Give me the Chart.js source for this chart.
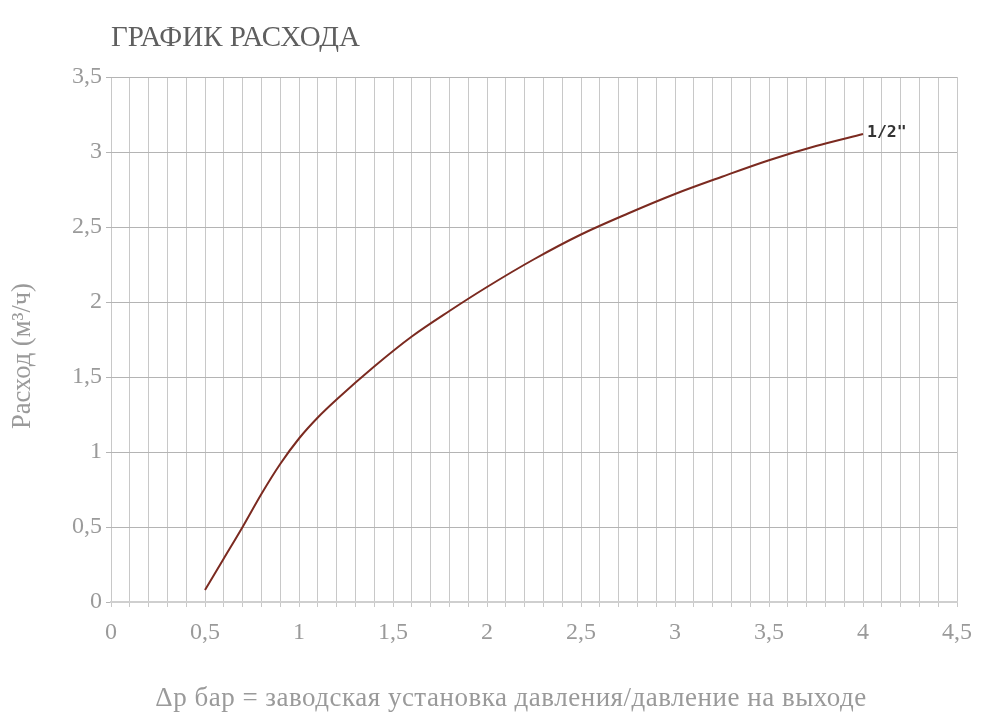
<!DOCTYPE html>
<html>
<head>
<meta charset="utf-8">
<script src="https://cdn.jsdelivr.net/npm/chart.js@4/dist/chart.umd.min.js"></script>
<style>
  html, body { margin: 0; padding: 0; background: #fff; }
  #wrap { position: relative; width: 994px; height: 717px; }
</style>
</head>
<body>
<div id="wrap"><canvas id="chart" width="994" height="717"></canvas></div>
<script>
// values
const chartTitle = 'ГРАФИК РАСХОДА'
const seriesName = '1/2"'
const pressure = [0.5, 0.6, 0.7, 0.8, 0.9, 1.0, 1.1, 1.2, 1.4, 1.6, 1.8, 2.0,
    2.25, 2.5, 2.75, 3.0, 3.25, 3.5, 3.75, 4.0]
const flow = [0.08, 0.29, 0.50, 0.72, 0.92, 1.09, 1.23, 1.35, 1.57, 1.77, 1.94, 2.10,
    2.285, 2.45, 2.59, 2.72, 2.835, 2.945, 3.04, 3.12]
const xAxisTitle = 'Δp бар = заводская установка давления/давление на выходе'
const yAxisTitle = 'Расход (м³/ч)'

const serif = '"Liberation Serif", "Times New Roman", serif'
const gray = '#9a9a9a'

const fmt = v => String(Math.round(v * 10) / 10).replace('.', ',')

const extraText = {
    id: 'extraText',
    afterDraw(chart) {
        const { ctx, chartArea } = chart
        ctx.save()
        ctx.fillStyle = '#5f5f5f'
        ctx.font = '29px ' + serif
        ctx.textBaseline = 'alphabetic'
        ctx.textAlign = 'left'
        ctx.fillText(chartTitle, chartArea.left, 46)

        // axis titles
        ctx.fillStyle = gray
        ctx.textAlign = 'center'
        ctx.textBaseline = 'middle'
        ctx.font = '27px ' + serif
        ctx.letterSpacing = '0.5px'
        ctx.fillText(xAxisTitle, 511, 699)
        ctx.letterSpacing = '0px'
        ctx.save()
        ctx.translate(23, 356)
        ctx.rotate(-Math.PI / 2)
        ctx.font = '26.5px ' + serif
        ctx.fillText(yAxisTitle, 0, 0)
        ctx.restore()

        // series label at end of the curve
        const pts = chart.getDatasetMeta(0).data
        const last = pts[pts.length - 1]
        ctx.fillStyle = '#333'
        ctx.textAlign = 'left'
        ctx.font = 'bold 16.5px "DejaVu Sans Mono", monospace'
        ctx.fillText(seriesName, last.x + 4, last.y - 1)
        ctx.restore()
    }
}

new Chart(document.getElementById('chart'), {
    type: 'line',
    data: {
        datasets: [{
            data: pressure.map((p, i) => ({ x: p, y: flow[i] })),
            borderColor: '#7b2a20',
            borderWidth: 2,
            pointRadius: 0,
            cubicInterpolationMode: 'monotone',
            fill: false
        }]
    },
    options: {
        responsive: false,
        animation: false,
        layout: { padding: { top: 77, right: 37, bottom: 0, left: 0 } },
        plugins: { legend: { display: false }, tooltip: { enabled: false } },
        scales: {
            x: {
                type: 'linear',
                min: 0,
                max: 4.5,
                afterFit: s => { s.height = 115 },
                border: { color: '#cfcfcf', width: 2 },
                grid: { color: '#c8c8c8', lineWidth: 1, tickLength: 5 },
                ticks: {
                    stepSize: 0.1,
                    autoSkip: false,
                    maxRotation: 0,
                    padding: 11,
                    color: gray,
                    font: { family: serif, size: 24 },
                    callback: v => Math.round(v * 10) % 5 === 0 ? fmt(v) : ''
                }
            },
            y: {
                min: 0,
                max: 3.5,
                afterFit: s => { s.width = 111 },
                border: { display: false },
                grid: { color: '#b4b4b4', lineWidth: 1, tickLength: 5 },
                ticks: {
                    stepSize: 0.5,
                    padding: 4,
                    color: gray,
                    font: { family: serif, size: 24 },
                    callback: v => fmt(v)
                }
            }
        }
    },
    plugins: [extraText]
})
</script>
</body>
</html>
